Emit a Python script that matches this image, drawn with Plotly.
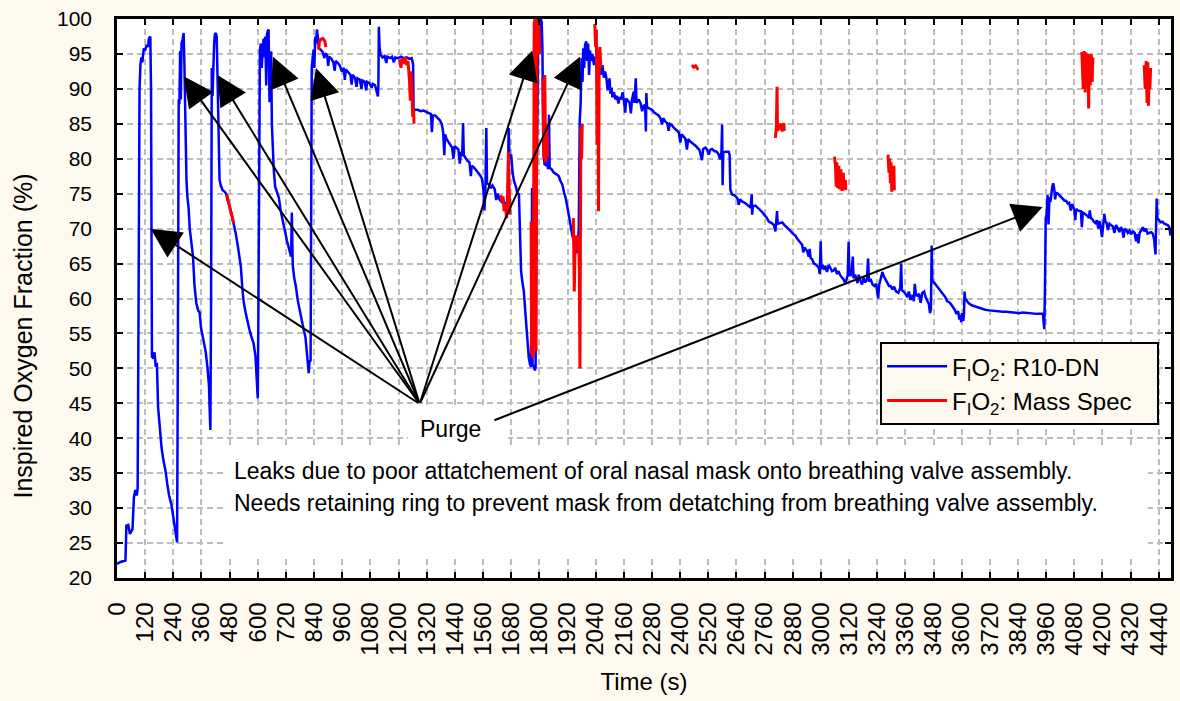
import plotly.graph_objects as go

# ---------------- data ----------------
BLUE_T = [0, 15, 36, 40, 48, 55, 60, 66, 72, 78, 84, 88, 92, 96, 100, 104, 108, 114, 120, 126, 132, 136, 142, 145, 147, 149,
          155, 160, 165, 170, 175, 182, 190, 198, 206, 214, 222, 232, 242, 250, 256, 258, 260, 263, 266, 269, 272, 275, 279, 284,
          287, 289, 292, 296, 300, 305, 310, 318, 324, 330, 338, 346, 352, 358, 368, 378, 386, 392, 396, 398, 401, 404, 407, 411,
          414, 417, 421, 425, 428, 431, 434, 437, 442, 450, 458, 465, 470, 480, 490, 497, 505, 515, 522, 528, 534, 540, 548, 556,
          564, 572, 582, 590, 595, 600, 603, 606, 609, 613, 617, 621, 625, 629, 632, 636, 639, 643, 646, 648, 650, 653, 657, 660,
          664, 668, 674, 682, 690, 698, 705, 712, 718, 724, 731, 738, 742, 745, 747, 749, 755, 762, 770, 778, 788, 796, 803, 809,
          814, 817, 821, 825, 828, 830, 834, 838, 841, 845, 848, 852, 856, 860, 868, 876, 884, 888, 896, 900, 904, 914, 922, 928,
          932, 942, 950, 958, 966, 971, 975, 985, 995, 1000, 1004, 1014, 1021, 1025, 1035, 1042, 1046, 1056, 1062, 1066, 1076, 1085,
          1090, 1100, 1108, 1112, 1114, 1116, 1119, 1123, 1132, 1140, 1148, 1152, 1164, 1172, 1180, 1186, 1198, 1210, 1222, 1234,
          1246, 1256, 1262, 1264, 1270, 1282, 1294, 1306, 1318, 1327, 1338, 1342, 1346, 1356, 1366, 1376, 1384, 1390, 1395, 1398,
          1405, 1413, 1420, 1428, 1434, 1438, 1446, 1455, 1461, 1466, 1471, 1475, 1478, 1486, 1494, 1502, 1508, 1512, 1520, 1530,
          1540, 1548, 1555, 1562, 1566, 1570, 1574, 1577, 1585, 1592, 1600, 1610, 1616, 1622, 1630, 1640, 1648, 1655, 1662, 1666,
          1669, 1673, 1680, 1686, 1692, 1700, 1707, 1713, 1718, 1722, 1727, 1734, 1741, 1746, 1751, 1755, 1760, 1764, 1767, 1769,
          1771, 1776, 1781, 1784, 1788, 1791, 1795, 1798, 1803, 1806, 1810, 1813, 1817, 1822, 1827, 1832, 1837, 1841, 1844, 1852,
          1862, 1872, 1883, 1890, 1898, 1905, 1912, 1920, 1926, 1933, 1940, 1948, 1955, 1962, 1968, 1972, 1976, 1980, 1984, 1987,
          1991, 1995, 2000, 2004, 2008, 2012, 2016, 2020, 2026, 2033, 2038, 2044, 2050, 2056, 2062, 2069, 2075, 2080, 2086, 2091,
          2095, 2099, 2103, 2108, 2111, 2118, 2124, 2131, 2137, 2142, 2148, 2155, 2160, 2166, 2170, 2178, 2185, 2190, 2195, 2202,
          2205, 2211, 2214, 2223, 2231, 2238, 2245, 2251, 2254, 2256, 2259, 2268, 2280, 2290, 2300, 2308, 2316, 2323, 2328, 2337,
          2345, 2351, 2356, 2365, 2374, 2386, 2394, 2401, 2406, 2414, 2422, 2429, 2434, 2442, 2451, 2460, 2468, 2475, 2482, 2488,
          2493, 2498, 2508, 2515, 2522, 2529, 2536, 2546, 2557, 2564, 2571, 2576, 2579, 2581, 2584, 2593, 2600, 2607, 2611, 2614,
          2621, 2630, 2640, 2646, 2650, 2655, 2664, 2672, 2680, 2690, 2700, 2705, 2707, 2710, 2721, 2730, 2740, 2749, 2758, 2768,
          2778, 2790, 2800, 2806, 2810, 2813, 2816, 2828, 2835, 2845, 2855, 2863, 2872, 2880, 2891, 2900, 2910, 2920, 2925, 2930,
          2941, 2948, 2952, 2956, 2963, 2970, 2977, 2984, 2991, 2995, 2999, 3002, 3008, 3014, 3020, 3026, 3033, 3040, 3047, 3054,
          3061, 3068, 3075, 3083, 3090, 3097, 3104, 3110, 3114, 3118, 3121, 3126, 3131, 3136, 3139, 3145, 3150, 3156, 3161, 3168,
          3175, 3182, 3188, 3196, 3201, 3205, 3212, 3220, 3228, 3235, 3240, 3244, 3248, 3256, 3262, 3268, 3275, 3283, 3290, 3297,
          3305, 3312, 3320, 3330, 3338, 3342, 3345, 3352, 3360, 3368, 3375, 3382, 3390, 3396, 3400, 3405, 3412, 3418, 3425, 3432,
          3440, 3446, 3452, 3460, 3465, 3469, 3472, 3475, 3482, 3489, 3498, 3506, 3514, 3522, 3530, 3538, 3546, 3554, 3562, 3570,
          3578, 3585, 3590, 3594, 3598, 3601, 3604, 3607, 3610, 3612, 3615, 3620, 3630, 3645, 3661, 3680, 3700, 3718, 3740, 3760,
          3775, 3790, 3808, 3825, 3843, 3860, 3880, 3900, 3920, 3946, 3952, 3955, 3958, 3962, 3966, 3970, 3974, 3978, 3982, 3986,
          3990, 3994, 3998, 4002, 4010, 4017, 4024, 4030, 4038, 4045, 4052, 4058, 4065, 4070, 4074, 4080, 4084, 4088, 4095, 4102,
          4108, 4112, 4116, 4122, 4130, 4136, 4142, 4146, 4150, 4156, 4163, 4170, 4176, 4182, 4187, 4192, 4198, 4203, 4208, 4212,
          4218, 4223, 4230, 4237, 4244, 4251, 4258, 4265, 4272, 4278, 4284, 4290, 4295, 4302, 4308, 4315, 4322, 4330, 4337, 4343,
          4348, 4353, 4358, 4366, 4372, 4378, 4385, 4392, 4400, 4408, 4414, 4420, 4426, 4429, 4431, 4434, 4440, 4448, 4456, 4463,
          4471, 4478, 4485, 4490]
BLUE_V = [22.0, 22.3, 22.5, 27.5, 27.6, 26.3, 26.6, 27.0, 31.5, 32.6, 31.8, 32.8, 60.0, 90.0, 93.5, 94.5, 93.8, 95.8, 95.5, 96.3, 96.0, 97.2, 97.5, 90.0, 69.9, 51.7,
          51.4, 52.3, 50.2, 50.8, 44.5, 41.5, 38.6, 36.8, 35.5, 33.5, 31.8, 30.5, 28.0, 26.5, 25.1, 40.0, 80.0, 88.5, 87.8, 95.4, 88.5, 96.5, 97.0, 98.0,
          94.0, 88.5, 80.5, 77.0, 74.5, 73.0, 70.0, 67.5, 66.0, 62.0, 59.3, 58.3, 58.0, 55.8, 54.2, 52.4, 50.0, 47.5, 43.0, 41.2, 60.0, 93.0, 89.0, 95.5,
          96.5, 97.8, 98.0, 97.5, 91.0, 86.0, 80.5, 77.0, 76.2, 75.5, 75.3, 75.0, 74.2, 73.2, 71.8, 70.8, 69.5, 67.5, 66.0, 64.5, 61.5, 59.5, 58.0, 56.6,
          55.6, 54.6, 53.6, 51.8, 49.0, 45.7, 60.0, 88.0, 95.4, 96.5, 93.0, 95.8, 97.2, 94.5, 97.5, 90.5, 97.8, 98.3, 98.5, 93.0, 88.1, 92.0, 95.4, 85.0,
          80.0, 78.5, 76.0, 75.2, 74.4, 72.5, 71.2, 70.0, 69.3, 68.3, 67.3, 66.5, 66.0, 72.3, 66.0, 64.8, 63.0, 61.8, 59.8, 58.3, 56.9, 55.5, 54.5, 52.7,
          50.5, 49.3, 51.2, 51.0, 70.0, 93.0, 94.5, 95.6, 93.0, 97.5, 96.5, 98.5, 97.4, 95.8, 95.6, 95.3, 94.4, 95.1, 94.8, 93.3, 94.6, 94.3, 93.8, 92.6,
          94.0, 93.7, 93.3, 92.5, 93.0, 91.3, 92.8, 92.4, 92.0, 90.6, 92.0, 91.6, 90.3, 91.5, 91.3, 90.0, 91.2, 91.0, 89.8, 91.0, 90.8, 90.2,
          90.7, 90.5, 89.3, 88.9, 90.5, 98.9, 96.0, 94.9, 94.5, 94.7, 93.7, 94.6, 94.4, 94.6, 93.8, 94.5, 94.4, 94.6, 94.4, 94.5,
          94.3, 94.4, 93.5, 86.8, 87.0, 87.0, 86.8, 86.9, 86.7, 86.6, 86.4, 83.8, 86.2, 86.2, 85.9, 85.5, 85.0, 83.8, 80.5, 83.5,
          82.8, 82.4, 82.0, 81.6, 80.0, 81.8, 81.6, 81.3, 79.3, 81.0, 80.4, 85.1, 80.5, 80.0, 79.7, 79.5, 77.5, 79.0, 78.8, 78.4,
          78.0, 77.6, 77.2, 75.5, 72.6, 75.5, 84.4, 76.5, 76.3, 75.8, 76.2, 75.6, 74.1, 75.0, 74.2, 73.8, 74.0, 73.5, 73.0, 76.5,
          84.4, 80.0, 80.6, 78.0, 76.8, 76.0, 75.0, 74.9, 70.0, 64.0, 62.5, 61.0, 57.7, 55.3, 52.0, 51.5, 50.6, 50.2, 60.0, 75.8,
          50.5, 50.3, 49.7, 50.1, 75.0, 91.0, 97.5, 99.0, 96.0, 100.0, 99.5, 95.8, 81.5, 79.2, 79.1, 80.6, 78.5, 86.3, 78.7, 78.5,
          78.0, 77.8, 77.5, 76.8, 76.3, 75.2, 74.4, 73.0, 72.0, 70.5, 69.1, 68.0, 67.2, 66.5, 70.0, 85.3, 88.0, 94.4, 91.0, 95.8,
          93.0, 96.3, 96.8, 94.0, 96.5, 92.0, 95.5, 94.0, 95.0, 93.4, 94.6, 93.0, 94.3, 93.2, 92.0, 93.4, 91.6, 92.5, 91.5, 89.8,
          91.0, 91.5, 89.3, 90.2, 88.8, 89.5, 88.5, 89.0, 87.9, 88.8, 88.5, 89.5, 88.4, 86.6, 88.6, 88.3, 88.0, 86.5, 88.5, 89.6,
          88.0, 91.5, 88.0, 88.5, 88.0, 86.8, 87.7, 87.5, 83.9, 89.4, 87.4, 87.2, 87.0, 86.6, 86.4, 86.2, 85.8, 84.9, 85.8, 85.3,
          85.1, 84.0, 85.0, 84.8, 84.4, 84.1, 83.8, 82.3, 83.5, 83.2, 82.9, 81.3, 82.8, 82.5, 82.3, 82.0, 81.8, 81.5, 81.3, 80.5,
          79.8, 81.4, 81.6, 81.3, 80.6, 81.3, 81.4, 81.1, 81.0, 80.6, 79.9, 81.0, 84.9, 76.2, 80.9, 81.0, 81.0, 81.0, 80.5, 75.6,
          74.9, 74.8, 74.5, 74.2, 73.4, 74.2, 73.9, 73.8, 73.6, 73.3, 73.0, 74.9, 72.0, 73.2, 73.3, 73.0, 72.7, 72.4, 72.0, 71.6,
          71.0, 70.8, 70.5, 69.6, 71.2, 72.5, 70.7, 70.8, 70.9, 70.5, 70.2, 70.0, 69.6, 69.3, 69.0, 68.5, 68.1, 67.7, 66.6, 67.3,
          66.8, 66.0, 67.1, 65.8, 65.6, 65.0, 64.9, 64.6, 64.4, 63.5, 68.2, 64.2, 64.8, 64.3, 64.5, 63.8, 64.8, 64.4, 63.9, 64.0,
          64.4, 63.5, 63.9, 63.3, 63.0, 62.7, 62.1, 62.8, 63.3, 68.1, 63.6, 63.2, 64.0, 66.0, 62.9, 63.4, 63.0, 62.2, 63.4, 62.6,
          62.0, 63.0, 62.3, 62.7, 65.7, 62.4, 62.8, 62.0, 61.8, 62.1, 61.0, 60.0, 61.9, 63.0, 63.8, 63.2, 62.7, 62.3, 61.8, 61.8,
          61.3, 61.7, 61.0, 60.8, 61.5, 65.0, 61.2, 61.0, 60.7, 60.2, 61.0, 59.8, 60.5, 59.6, 62.1, 60.5, 60.4, 60.7, 59.4, 60.8,
          61.0, 60.2, 59.8, 59.2, 57.9, 58.5, 67.6, 62.5, 62.3, 62.0, 61.6, 61.3, 61.0, 60.6, 60.2, 59.6, 59.5, 59.2, 58.8, 58.4,
          57.8, 58.2, 57.0, 57.6, 56.6, 57.9, 57.5, 56.8, 58.0, 61.0, 60.0, 59.8, 59.3, 59.0, 58.8, 58.6, 58.4, 58.3, 58.2, 58.2,
          58.1, 58.1, 58.0, 58.0, 57.9, 58.0, 57.9, 57.9, 57.8, 57.8, 55.6, 62.0, 71.5, 72.0, 74.8, 70.6, 74.5, 73.8, 75.5, 76.0,
          76.5, 75.8, 74.2, 75.1, 75.0, 74.8, 74.5, 74.3, 74.0, 74.0, 73.6, 73.7, 72.6, 73.5, 73.3, 72.7, 71.2, 72.8, 72.6, 72.5,
          72.5, 70.2, 72.3, 72.2, 72.0, 71.8, 71.5, 72.6, 71.5, 71.4, 71.0, 70.8, 71.2, 70.0, 71.1, 70.4, 68.8, 70.9, 72.1, 71.0,
          70.8, 69.8, 70.7, 70.5, 70.3, 69.4, 70.5, 70.1, 69.5, 70.2, 69.9, 68.7, 70.0, 69.8, 69.4, 69.7, 69.2, 69.6, 69.4, 68.2,
          69.2, 67.9, 69.4, 69.8, 70.2, 69.6, 70.0, 69.3, 69.4, 69.5, 69.3, 68.5, 66.3, 70.0, 74.3, 71.5, 71.2, 70.9, 71.0, 70.7,
          70.6, 70.5, 70.2, 69.0]

RED_T = [860, 862, 868, 878, 886, 890, None,
         468, 472, 478, 482, 487, 492, 497, None,
         1205, 1210, 1215, 1222, 1228, 1235, 1240, 1246, 1250, 1253, 1257, 1260, 1263, 1266, None,
         1636, 1640, 1645, 1650, 1655, 1660, 1665, 1668, 1671, 1675, None,
         1765, 1767, 1770, 1774, 1778, 1782, 1786, 1790, 1795, 1798, 1802, None,
         1815, 1819, 1823, 1827, 1832, 1836, None,
         1945, 1949, 1953, 1958, 1962, 1966, 1970, 1973, 1977, 1980, 1983, None,
         2036, 2040, 2043, 2046, 2049, 2052, 2055, 2058, 2062, None,
         2450, 2458, 2466, 2474, 2478, None,
         2806, 2810, 2813, 2815, 2820, 2828, 2835, 2842, 2844, None,
         3058, 3062, 3065, 3068, 3072, 3076, 3080, 3085, 3090, 3095, 3100, 3104, 3106, None,
         3286, 3290, 3293, 3296, 3299, 3302, 3305, 3308, 3311, 3313, None,
         4112, 4118, 4122, 4126, 4130, 4134, 4138, 4141, 4144, 4148, 4152, 4156, 4159, None,
         4378, 4382, 4386, 4390, 4393, 4396, 4399, 4402, 4405]
RED_V = [95.6, 96.6, 97.1, 97.2, 96.8, 96.0, None,
         74.9, 74.2, 73.6, 72.8, 72.2, 71.4, 70.8, None,
         94.2, 93.0, 94.4, 93.6, 94.5, 93.4, 94.0, 91.5, 88.3, 92.5, 90.0, 86.0, 87.5, 85.0, None,
         74.8, 73.8, 74.6, 72.5, 73.5, 71.5, 74.0, 81.0, 76.0, 72.0, None,
         71.0, 52.0, 53.5, 51.5, 99.5, 100.0, 52.5, 99.8, 100.0, 99.0, 95.0, None,
         91.5, 80.0, 92.0, 79.5, 85.0, 80.2, None,
         71.5, 61.0, 69.0, 68.5, 67.0, 69.0, 65.0, 50.0, 84.5, 80.0, 85.0, None,
         99.3, 96.0, 98.5, 82.0, 95.5, 72.5, 94.5, 96.0, 93.0, None,
         93.4, 93.1, 93.3, 92.9, 93.0, None,
         83.0, 84.5, 90.3, 84.0, 84.3, 85.0, 83.9, 85.1, 84.0, None,
         80.3, 79.0, 76.0, 79.5, 75.8, 79.0, 75.6, 78.5, 75.4, 78.0, 75.5, 77.0, 75.5, None,
         80.6, 78.0, 80.0, 76.5, 79.5, 75.3, 78.5, 76.0, 79.0, 75.5, None,
         95.3, 90.0, 95.4, 89.5, 95.2, 90.2, 95.0, 87.2, 94.8, 90.5, 95.0, 91.0, 94.5, None,
         93.4, 90.0, 94.0, 88.0, 93.8, 87.6, 92.5, 90.0, 93.0]

# Arrow tips (time, %) and shared tails
ARROW_TIP_T = [143, 284, 428, 665, 848, 1770, 1973, 3945]
ARROW_TIP_V = [70.0, 91.8, 92.0, 94.6, 93.0, 95.5, 94.6, 73.1]
ARROW_TAIL_T = [1290, 1290, 1290, 1290, 1290, 1290, 1290, 1602]
ARROW_TAIL_V = [44.9, 44.9, 44.9, 44.9, 44.9, 44.9, 44.9, 42.5]

NAME_BLUE = "F<sub>I</sub>O<sub>2</sub>: R10-DN"
NAME_RED = "F<sub>I</sub>O<sub>2</sub>: Mass Spec&nbsp;&nbsp;&nbsp;"
PURGE_TEXT = "Purge"
NOTE_LINES = ["Leaks due to poor attatchement of oral nasal mask onto breathing valve assembly.",
              "Needs retaining ring to prevent mask from detatching from breathing valve assembly."]
X_TITLE = "Time (s)"
Y_TITLE = "Inspired Oxygen Fraction (%)"

FONT = "Liberation Sans, Arial, sans-serif"
CREAM = "#fdf9ee"

fig = go.Figure()
fig.add_trace(go.Scatter(x=BLUE_T, y=BLUE_V, mode="lines", name=NAME_BLUE,
                         line=dict(color="#0000ff", width=2.5)))
fig.add_trace(go.Scatter(x=RED_T, y=RED_V, mode="lines", name=NAME_RED, connectgaps=False,
                         line=dict(color="#ff0000", width=3)))

# white panels behind the text (cover grid only)
fig.add_shape(type="rect", xref="x", yref="y", x0=458, x1=4393, y0=23.1, y1=38.7,
              fillcolor="white", line=dict(width=0), layer="between")
fig.add_shape(type="rect", xref="x", yref="y", x0=1241, x1=1667, y0=38.6, y1=44.4,
              fillcolor="white", line=dict(width=0), layer="between")

fig.add_annotation(x=1420, y=41.3, xref="x", yref="y", text=PURGE_TEXT, showarrow=False,
                   font=dict(family=FONT, size=23, color="black"))
fig.add_annotation(x=488, y=35.3, xref="x", yref="y", text=NOTE_LINES[0], showarrow=False,
                   xanchor="left", font=dict(family=FONT, size=23, color="black"))
fig.add_annotation(x=488, y=30.7, xref="x", yref="y", text=NOTE_LINES[1], showarrow=False,
                   xanchor="left", font=dict(family=FONT, size=23, color="black"))
# y-axis title (placed like the reference, slightly below axis centre)
fig.add_annotation(x=-0.0901, y=0.432, xref="paper", yref="paper", text=Y_TITLE, textangle=-90,
                   xanchor="center", yanchor="middle",
                   showarrow=False, font=dict(family=FONT, size=25, color="black"))

for tx, tv, ax, av in zip(ARROW_TIP_T, ARROW_TIP_V, ARROW_TAIL_T, ARROW_TAIL_V):
    fig.add_annotation(x=tx, y=tv, xref="x", yref="y", ax=ax, ay=av, axref="x", ayref="y",
                       text="", showarrow=True, arrowhead=2, arrowsize=3.0, arrowwidth=2,
                       arrowcolor="black", standoff=0)

fig.update_layout(
    width=1180, height=701,
    margin=dict(l=117, r=9, t=19, b=123, autoexpand=False),
    paper_bgcolor=CREAM, plot_bgcolor="white",
    font=dict(family=FONT, size=21, color="black"),
    showlegend=True,
    legend=dict(x=0.724, y=0.422, xanchor="left", yanchor="top",
                bgcolor=CREAM, bordercolor="black", borderwidth=2,
                font=dict(family=FONT, size=24, color="black"),
                itemwidth=60, tracegroupgap=0),
)
fig.update_xaxes(range=[0, 4492], tick0=0, dtick=120, tickangle=-90, automargin=False,
                 showgrid=True, gridcolor="#bdbdbd", gridwidth=2, griddash="6px,4px",
                 showline=True, linecolor="black", linewidth=2.5, mirror="ticks",
                 ticks="inside", ticklen=6, tickwidth=2, tickcolor="black",
                 ticklabelstandoff=12,
                 zeroline=False, tickfont=dict(family=FONT, size=24, color="black"),
                 title=dict(text=X_TITLE, font=dict(family=FONT, size=24, color="black"), standoff=19))
fig.update_yaxes(range=[20, 100], tick0=20, dtick=5, automargin=False,
                 showgrid=True, gridcolor="#bdbdbd", gridwidth=2, griddash="6px,4px",
                 showline=True, linecolor="black", linewidth=2.5, mirror="ticks",
                 ticks="inside", ticklen=6, tickwidth=2, tickcolor="black",
                 ticklabelstandoff=18,
                 zeroline=False, tickfont=dict(family=FONT, size=21, color="black"))

fig.write_html("out.html", config={"displayModeBar": False},
               post_script="document.body.style.margin='0';document.body.style.background='#fdf9ee';document.documentElement.style.overflow='hidden';")
